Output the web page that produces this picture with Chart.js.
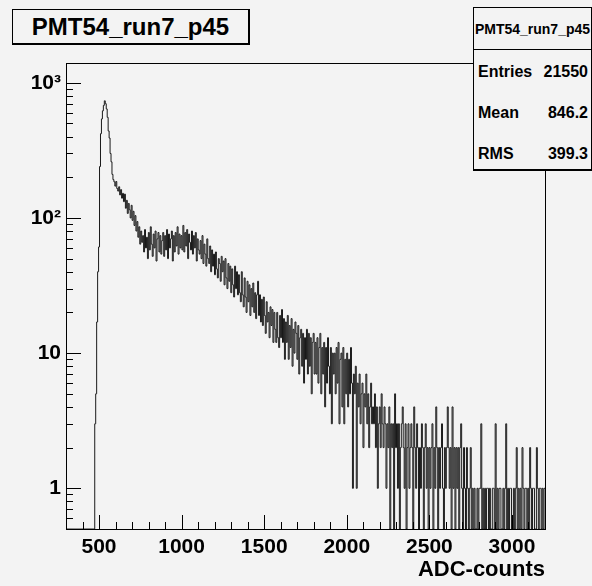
<!DOCTYPE html>
<html>
<head>
<meta charset="utf-8">
<script src="https://cdn.jsdelivr.net/npm/chart.js@4.4.0/dist/chart.umd.min.js"></script>
<style>
  body { margin: 0; background: #f3f3f3; }
  #wrap { position: relative; width: 592px; height: 586px; font-family: "Liberation Sans", Arial, sans-serif; font-weight: bold; color: #000; }
  #c { position: absolute; left: 0; top: 0; }
  #title { position: absolute; left: 12px; top: 9px; width: 235px; height: 33px; border: 1px solid #000; border-right-width: 2px; border-bottom-width: 2px; background: #f3f3f3; font-size: 24px; display: flex; align-items: center; justify-content: center; }
  #stats { position: absolute; left: 473px; top: 7px; width: 117px; height: 161px; border: 1px solid #000; border-bottom-width: 2px; background: #f3f3f3; }
  #stats .head { position: absolute; left: 0; top: 0; width: 117px; height: 41px; border-bottom: 1px solid #000; font-size: 14px; display: flex; align-items: center; justify-content: center; }
  #stats .row { position: absolute; left: 4px; width: 110px; font-size: 16px; line-height: 18px; display: flex; justify-content: space-between; }
</style>
</head>
<body>
<div id="wrap">
  <canvas id="c" width="592" height="586"></canvas>
  <div id="title">PMT54_run7_p45</div>
  <div id="stats">
    <div class="head">PMT54_run7_p45</div>
    <div class="row" style="top:55px"><span>Entries</span><span>21550</span></div>
    <div class="row" style="top:96px"><span>Mean</span><span>846.2</span></div>
    <div class="row" style="top:137px"><span>RMS</span><span>399.3</span></div>
  </div>
</div>
<script>
// histogram: 500 bins from 300 to 3200 ADC
const xMin = 300;
const xMax = 3200;
const binWidth = 5.8;
const yMin = 0.5;
const yMax = 1400;

const counts = [
  0,0,0,0,0,0,0,0,0,0, 0,0,0,0,0,0,0,0,0,0,
  0,0,0,0,0,0,0,0,0,0, 3,5,17,40,61,240,420,540,620,680,
  735,700,640,555,440,390,300,260,210,192, 185,172,186,165,158,170,148,162,140,152,
  132,150,118,135,108,128,115,100,124,96, 112,88,104,80,94,72,86,64,80,66,
  74,56,82,60,72,50,78,58,86,64, 52,76,60,80,48,70,78,56,74,54,
  68,78,52,74,58,82,50,76,60,70, 80,48,74,56,78,62,86,54,76,60,
  74,58,88,56,78,62,82,50,76,66, 58,80,54,74,60,78,48,70,58,54,
  68,50,74,46,64,54,44,70,50,46, 62,40,58,44,54,38,56,42,36,50,
  46,34,52,40,48,32,50,36,30,46, 34,44,28,42,32,26,44,30,40,27,
  38,28,24,40,27,22,36,26,20,34, 24,32,19,30,22,33,20,28,18,27,
  34,19,27,17,25,16,26,19,14,24, 17,20,13,22,16,21,12,20,15,12,
  20,13,11,19,13,21,12,18,9,17, 12,19,9,16,11,18,8,15,10,17,
  14,9,16,7,13,15,8,14,6,13, 9,15,7,14,8,13,5,12,14,7,
  12,7,13,6,11,14,5,11,7,12, 4,11,6,13,8,5,11,3,10,7,
  10,5,11,6,12,3,9,10,4,11, 3,9,5,10,4,9,5,11,6,1,
  7,5,8,1,6,4,7,3,5,6, 2,5,4,7,3,5,2,4,6,3,
  4,3,5,2,4,1,3,4,2,5, 3,2,4,3,1,3,2,4,0,3,
  2,3,0,5,2,3,1,3,0,2, 3,4,2,1,3,0,2,3,1,2,
  3,2,0,4,2,1,3,2,0,2, 1,3,2,0,2,3,1,2,0,2,
  1,2,3,0,2,1,4,2,0,2, 1,2,3,1,0,2,1,2,4,2,
  1,2,0,4,1,2,0,2,1,2, 0,2,3,1,0,2,1,0,2,1,
  0,1,2,0,1,0,1,0,0,1, 0,1,1,3,0,1,0,1,0,1,
  1,0,1,0,0,1,1,0,3,0, 1,0,1,1,0,0,1,0,1,3,
  0,1,0,1,1,0,0,1,0,1, 2,0,1,0,1,0,2,1,0,1,
  1,0,1,0,2,1,0,1,1,0, 0,2,1,0,1,1,0,1,0,1
];

const xTickValues = [500, 1000, 1500, 2000, 2500, 3000];
const yTickValues = [1, 10, 100, 1000];
const yTickLabels = ['1', '10', '10²', '10³'];

// step points at bin edges; empty bins drop to the bottom of the log axis
const points = counts.map((v, i) => ({ x: xMin + i * binWidth, y: v > 0 ? v : yMin }));
points.push({ x: xMax, y: points[points.length - 1].y });

const fontFamily = 'Liberation Sans, Arial, sans-serif';

// ROOT style frame with inward ticks
const rootFrame = {
  id: 'rootFrame',
  afterDraw(chart) {
    const ctx = chart.ctx;
    const a = chart.chartArea;
    const xs = chart.scales.x;
    const ys = chart.scales.y;
    const left = Math.round(a.left);
    const top = Math.round(a.top);
    const bottom = Math.round(a.bottom);
    ctx.save();
    ctx.fillStyle = '#000';
    for (let v = xMin; v <= xMax; v += 100) {
      const px = Math.round(xs.getPixelForValue(v));
      const len = v % 500 === 0 ? 14 : 7;
      ctx.fillRect(px, bottom - len, 1, len);
    }
    [0.1, 1, 10, 100, 1000].forEach(d => {
      for (let m = 1; m <= 9; m++) {
        const v = m * d;
        if (v < yMin || v > yMax) continue;
        const py = Math.round(ys.getPixelForValue(v));
        ctx.fillRect(left, py, m === 1 ? 15 : 7, 1);
      }
    });
    ctx.fillRect(left, top, Math.round(a.width) + 1, 1);
    ctx.fillRect(left, bottom, Math.round(a.width) + 1, 1);
    ctx.fillRect(left, top, 1, bottom - top);
    ctx.fillRect(Math.round(a.right), top, 1, bottom - top + 1);
    ctx.restore();
  }
};

new Chart(document.getElementById('c'), {
  type: 'line',
  data: {
    datasets: [{
      data: points,
      stepped: true,
      borderColor: '#1a1a1a',
      borderWidth: 1,
      pointRadius: 0,
      fill: false
    }]
  },
  options: {
    responsive: false,
    animation: false,
    layout: { padding: { top: 63, right: 47, left: 0, bottom: 0 } },
    plugins: { legend: { display: false }, tooltip: { enabled: false } },
    scales: {
      x: {
        type: 'linear',
        min: xMin,
        max: xMax,
        grid: { display: false, drawTicks: false },
        border: { display: false },
        afterFit: s => { s.height = 57; },
        afterBuildTicks: s => { s.ticks = xTickValues.map(v => ({ value: v })); },
        ticks: {
          padding: 6,
          color: '#000',
          maxRotation: 0,
          font: { family: fontFamily, size: 21, weight: 'bold' },
          callback: v => String(v)
        },
        title: {
          display: true,
          text: 'ADC-counts',
          align: 'end',
          color: '#000',
          padding: { top: 0, bottom: 3 },
          font: { family: fontFamily, size: 22, weight: 'bold' }
        }
      },
      y: {
        type: 'logarithmic',
        min: yMin,
        max: yMax,
        grid: { display: false, drawTicks: false },
        border: { display: false },
        afterFit: s => { s.width = 66; },
        afterBuildTicks: s => { s.ticks = yTickValues.map(v => ({ value: v })); },
        ticks: {
          padding: 5,
          color: '#000',
          font: { family: fontFamily, size: 21, weight: 'bold' },
          callback: v => yTickLabels[yTickValues.indexOf(v)]
        }
      }
    }
  },
  plugins: [rootFrame]
});
</script>
</body>
</html>
